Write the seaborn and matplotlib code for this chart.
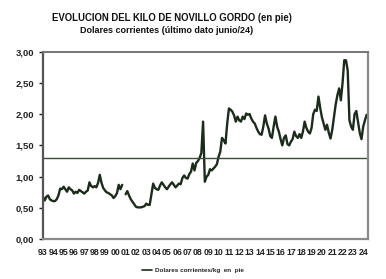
import numpy as np
import pandas as pd
import matplotlib
matplotlib.use("Agg")
import matplotlib.pyplot as plt
from matplotlib.ticker import FuncFormatter
from matplotlib.lines import Line2D
import seaborn as sns

# Bimonthly values (Jan, Mar, May, Jul, Sep, Nov), US$/kg live weight
v1993 = [0.68, 0.62, 0.68, 0.70, 0.64, 0.62]
v1994 = [0.61, 0.61, 0.64, 0.70, 0.81, 0.80]
v1995 = [0.84, 0.80, 0.76, 0.83, 0.80, 0.78]
v1996 = [0.73, 0.76, 0.74, 0.79, 0.77, 0.75]
v1997 = [0.73, 0.76, 0.78, 0.91, 0.85, 0.83]
v1998 = [0.85, 0.83, 0.90, 1.03, 0.90, 0.82]
v1999 = [0.78, 0.75, 0.74, 0.72, 0.70, 0.66]
v2000 = [0.69, 0.74, 0.87, 0.80, 0.87, np.nan]
v2001 = [0.72, 0.77, 0.70, 0.64, 0.60, 0.56]
v2002 = [0.52, 0.51, 0.51, 0.51, 0.52, 0.53]
v2003 = [0.57, 0.55, 0.55, 0.72, 0.89, 0.82]
v2004 = [0.80, 0.79, 0.86, 0.91, 0.87, 0.83]
v2005 = [0.80, 0.84, 0.88, 0.91, 0.87, 0.83]
v2006 = [0.86, 0.89, 0.88, 0.98, 1.02, 0.98]
v2007 = [0.97, 1.04, 1.08, 1.21, 1.10, 1.22]
v2008 = [1.25, 1.30, 1.38, 1.88, 0.92, 1.00]
v2009 = [1.03, 1.12, 1.10, 1.13, 1.16, 1.20]
v2010 = [1.32, 1.40, 1.62, 1.58, 1.53, 1.85]
v2011 = [2.09, 2.07, 2.04, 1.98, 1.88, 1.96]
v2012 = [1.90, 1.88, 1.96, 1.92, 2.01, 1.99]
v2013 = [2.00, 1.93, 1.88, 1.85, 1.78, 1.72]
v2014 = [1.68, 1.67, 1.80, 1.98, 1.85, 1.77]
v2015 = [1.65, 1.62, 1.80, 1.96, 1.80, 1.72]
v2016 = [1.60, 1.50, 1.62, 1.66, 1.52, 1.50]
v2017 = [1.56, 1.60, 1.72, 1.65, 1.62, 1.68]
v2018 = [1.62, 1.72, 1.88, 1.78, 1.72, 1.69]
v2019 = [1.78, 2.00, 2.07, 2.05, 2.28, 2.10]
v2020 = [1.95, 1.85, 1.75, 1.83, 1.70, 1.61]
v2021 = [1.75, 1.95, 2.15, 2.30, 2.41, 2.22]
v2022 = [2.50, 2.86, 2.86, 2.70, 1.90, 1.80]
v2023 = [1.75, 2.00, 2.05, 1.88, 1.70, 1.60]
v2024 = [1.80, 1.90, 1.99]

reference_level = 1.30
year_labels = ["93", "94", "95", "96", "97", "98", "99", "00", "01", "02", "03",
               "04", "05", "06", "07", "08", "09", "10", "11", "12", "13", "14",
               "15", "16", "17", "18", "19", "20", "21", "22", "23", "24"]
y_ticks = [0.0, 0.5, 1.0, 1.5, 2.0, 2.5, 3.0]

values = (v1993 + v1994 + v1995 + v1996 + v1997 + v1998 + v1999 + v2000 + v2001 +
          v2002 + v2003 + v2004 + v2005 + v2006 + v2007 + v2008 + v2009 + v2010 +
          v2011 + v2012 + v2013 + v2014 + v2015 + v2016 + v2017 + v2018 + v2019 +
          v2020 + v2021 + v2022 + v2023 + v2024)
dates = pd.date_range("1993-01-01", periods=len(values), freq="2MS")
df = pd.DataFrame({"fecha": dates, "valor": values})
# split the series at missing values so the line breaks
df["seg"] = df["valor"].isna().cumsum()
df = df.dropna()

sns.set_theme(style="white")
plt.rcParams["font.family"] = ["Liberation Sans", "DejaVu Sans"]

fig = plt.figure(figsize=(3.86, 2.79), dpi=100)
ax = fig.add_axes([0.1106, 0.1423, 0.9541 - 0.1106, 0.8154 - 0.1423])

line_color = "#1c2b1c"
sns.lineplot(data=df, x="fecha", y="valor", units="seg", estimator=None,
             color=line_color, linewidth=1.7, ax=ax, legend=False)
ax.axhline(reference_level, color="#3d4a3d", linewidth=1.0)

ax.set_xlim(pd.Timestamp("1992-12-21"), pd.Timestamp("2024-06-28"))
ax.set_ylim(0, 3.0)
ax.set_yticks(y_ticks)
ax.yaxis.set_major_formatter(FuncFormatter(lambda v, p: f"{v:.2f}".replace(".", ",")))
tick_dates = pd.date_range("1993-01-01", periods=len(year_labels), freq="YS")
ax.set_xticks(tick_dates)
ax.set_xticklabels(year_labels)
ax.set_xlabel("")
ax.set_ylabel("")

ax.tick_params(axis="x", length=0, pad=6, labelsize=6.3, colors="#111111")
ax.tick_params(axis="y", length=3, width=1, direction="out", pad=3,
               labelsize=6.8, colors="#222222", left=True)
for lab in ax.get_xticklabels() + ax.get_yticklabels():
    lab.set_fontweight("bold")
    lab.set_color("#222222")

ax.spines["left"].set_color("#555555")
ax.spines["left"].set_linewidth(1.6)
ax.spines["bottom"].set_color("#8a8a8a")
ax.spines["bottom"].set_linewidth(1.6)
ax.spines["right"].set_color("#8a8a8a")
ax.spines["right"].set_linewidth(1.6)
ax.spines["top"].set_color("#777777")
ax.spines["top"].set_linewidth(1.4)
ax.spines["top"].set_linestyle((0, (1, 0.6)))

fig.text(0.446, 0.934, "EVOLUCION DEL KILO DE NOVILLO GORDO (en pie)",
         ha="center", va="center", fontsize=6.9, fontweight="bold", color="#111111")
fig.text(0.432, 0.890, "Dolares corrientes (último dato junio/24)",
         ha="center", va="center", fontsize=6.5, fontweight="bold", color="#111111")

# legend
handle = Line2D([], [], color=line_color, linewidth=1.2)
fig.legend([handle], ["Dolares corrientes/kg  en  pie"], loc="center",
           bbox_to_anchor=(0.50, 0.032), frameon=False, handlelength=1.6,
           handletextpad=0.4, prop={"size": 4.6, "weight": "bold"})

fig.savefig("out.png", dpi=100)
